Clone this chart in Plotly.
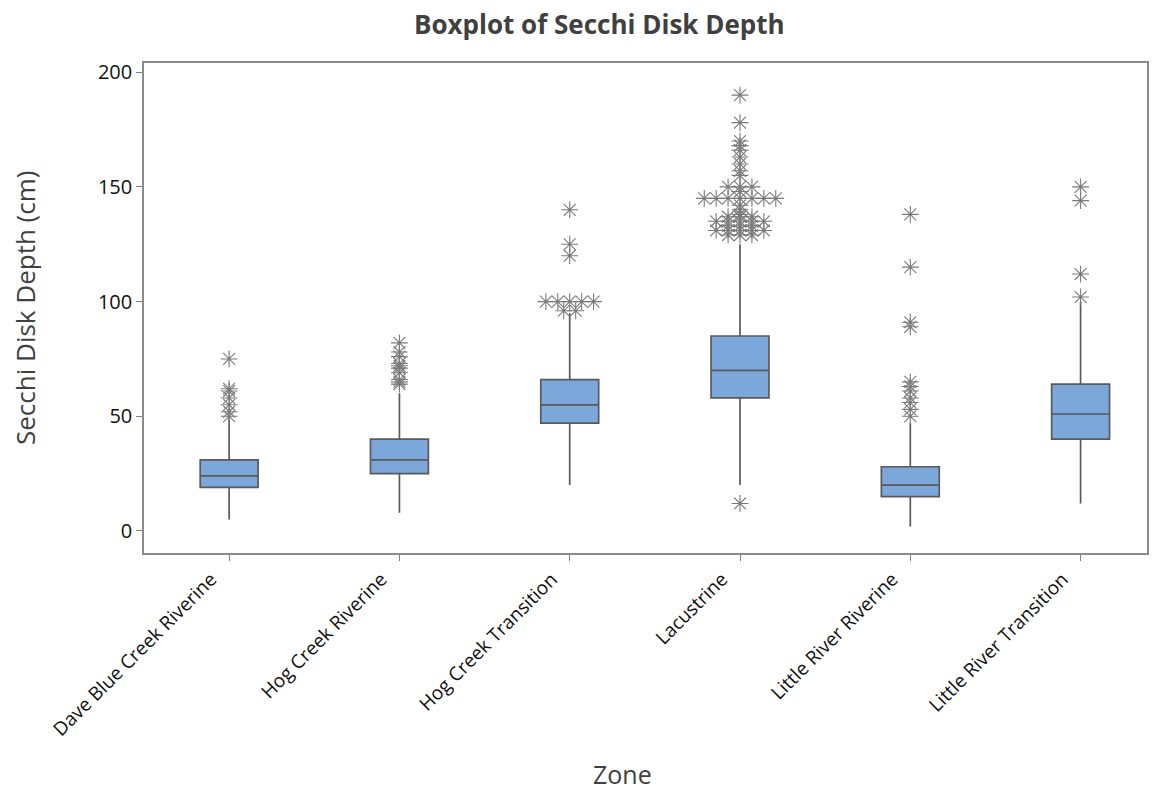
import plotly.graph_objects as go
from collections import Counter

zones = ["Dave Blue Creek Riverine", "Hog Creek Riverine", "Hog Creek Transition",
         "Lacustrine", "Little River Riverine", "Little River Transition"]
q1 = [19, 25, 47, 58, 15, 40]
median = [24, 31, 55, 70, 20, 51]
q3 = [31, 40, 66, 85, 28, 64]
lower_whisker = [5, 8, 20, 20, 2, 12]
upper_whisker = [49, 60, 95, 125, 47, 100]

outliers_dave = [75, 62, 61, 58, 55, 52, 50]
outliers_hog_riv = [82, 78, 76, 73, 72, 71, 69, 66, 65, 64]
outliers_hog_tr = [140, 125, 120, 100, 100, 100, 100, 100, 96, 96]
outliers_lac = [190, 178, 170, 168, 166, 163, 160, 157, 155, 150, 150, 150, 148,
                145, 145, 145, 145, 145, 145, 145, 142, 140, 138,
                137, 137, 137, 135, 135, 135, 135, 135, 133, 133, 133,
                131, 131, 131, 131, 131, 129, 129, 129, 12]
outliers_lr_riv = [138, 115, 91, 89, 65, 63, 61, 58, 56, 53, 50]
outliers_lr_tr = [150, 144, 112, 102]
outliers = [outliers_dave, outliers_hog_riv, outliers_hog_tr,
            outliers_lac, outliers_lr_riv, outliers_lr_tr]

idx = list(range(len(zones)))
BOX_FILL = "#7BA7DA"
LINE = "#5A5A5A"
MARK = "#7A7A7A"

fig = go.Figure()
fig.add_trace(go.Box(
    x=idx, q1=q1, median=median, q3=q3,
    lowerfence=lower_whisker, upperfence=upper_whisker,
    boxpoints=False, width=0.34, whiskerwidth=0,
    fillcolor=BOX_FILL, line=dict(color=LINE, width=1.7),
    showlegend=False, hoverinfo="skip",
))

# spread tied outliers side by side (as Minitab does)
step = 0.07
ox, oy = [], []
for i, vals in enumerate(outliers):
    counts = Counter(vals)
    for v, n in counts.items():
        for k in range(n):
            ox.append(i + (k - (n - 1) / 2) * step)
            oy.append(v)

fig.add_trace(go.Scatter(
    x=ox, y=oy, mode="markers",
    marker=dict(symbol="asterisk-open", size=14, color=MARK,
                line=dict(color=MARK, width=1.1)),
    showlegend=False, hoverinfo="skip",
))

W, H = 1159, 792
L, R, T, B = 136, 20, 55, 247
PW, PH = W - L - R, H - T - B
fig.update_layout(
    width=W, height=H,
    margin=dict(l=L, r=R, t=T, b=B, autoexpand=False),
    paper_bgcolor="white", plot_bgcolor="white",
    font=dict(family="Open Sans", color="#000000"),
    annotations=[
        dict(text="<b>Boxplot of Secchi Disk Depth</b>", xref="paper", yref="paper",
             x=(591 - L) / PW, y=1 + (T - 16) / PH,
             xanchor="center", yanchor="middle", showarrow=False,
             font=dict(family="Open Sans", size=26, color="#404040")),
        dict(text="Zone", xref="paper", yref="paper",
             x=(614 - L) / PW, y=-(766 - T - PH) / PH,
             xanchor="center", yanchor="middle", showarrow=False,
             font=dict(size=25, color="#404040")),
        dict(text="Secchi Disk Depth (cm)", xref="paper", yref="paper",
             x=-(L - 17) / PW, y=0.5, textangle=-90,
             xanchor="center", yanchor="middle", showarrow=False,
             font=dict(size=26, color="#404040")),
    ],
)
fig.update_xaxes(
    range=[-0.5, 5.39], tickmode="array", tickvals=idx, ticktext=zones,
    tickangle=-45, tickfont=dict(size=19, color="#111111"),
    ticklabelshift=-18,
    ticks="outside", ticklen=6, tickcolor="#808080",
    showline=True, mirror=True, linecolor="#8A8A8A", linewidth=1.5,
    showgrid=False, zeroline=False, automargin=False,
)
fig.update_yaxes(
    range=[-9.6, 204], tickmode="array", tickvals=[0, 50, 100, 150, 200],
    tickfont=dict(size=20, color="#111111"),
    ticks="outside", ticklen=6, tickcolor="#808080",
    showline=True, mirror=True, linecolor="#8A8A8A", linewidth=1.5,
    showgrid=False, zeroline=False, automargin=False,
)

fig.write_html("out.html")
